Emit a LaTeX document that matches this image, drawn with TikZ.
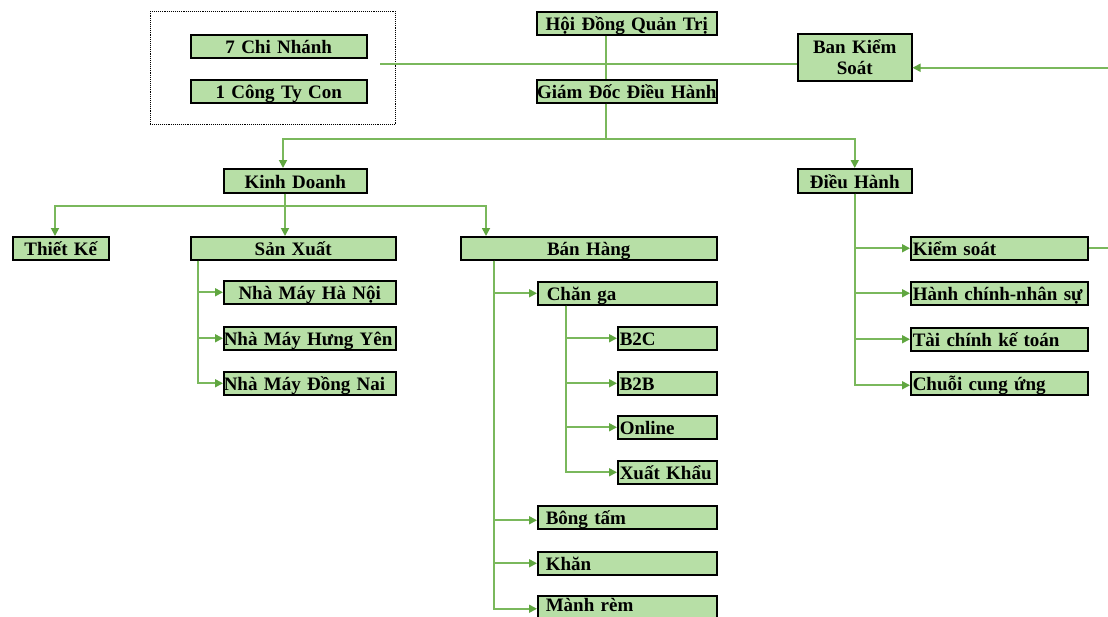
\documentclass[tikz,border=0pt]{standalone}
\usepackage{fontspec}
\setmainfont{Liberation Serif}
\usetikzlibrary{arrows.meta,calc}
\definecolor{boxfill}{RGB}{183,223,166}
\definecolor{conn}{RGB}{122,184,92}
\definecolor{conntip}{RGB}{96,166,64}
\tikzset{
  bx/.style={draw=black, fill=boxfill, line width=1.5pt, inner xsep=0pt, inner ysep=0pt,
    anchor=north west, text height=18.5pt, text depth=4.5pt,
    font=\bfseries\fontsize{19}{21}\selectfont},
  bxtall/.style={draw=black, fill=boxfill, line width=1.5pt, inner xsep=0pt, inner ysep=0pt,
    anchor=north west, font=\bfseries\fontsize{19}{21}\selectfont},
  ln/.style={draw=conn, line width=1.7pt},
  arr/.style={draw=conn, line width=1.7pt, -{Triangle[length=8pt,width=8pt,color=conntip]}},
  grpbox/.style={draw=black, densely dotted, line width=0.9pt, anchor=north west, inner sep=0pt}
}
\begin{document}
\begin{tikzpicture}[x=1pt,y=-1pt]
\useasboundingbox (0,0) rectangle (1108,616);
\clip (0,0) rectangle (1108,616);
\fill[white] (0,0) rectangle (1108,616);

% group frame
\node[grpbox, minimum width=245pt, minimum height=113pt] (grp) at (150,11) {};
\node[bx, text width=176pt, align=center] (cn) at (190,34) {7 Chi Nhánh};
\node[bx, text width=176pt, align=center] (ct) at (190,79) {1 Công Ty Con};

% top
\node[bx, text width=180pt, align=center] (hd) at (536,11) {Hội Đồng Quản Trị};
\node[bx, text width=180pt, align=center] (gd) at (536,79) {Giám Đốc Điều Hành};
\node[bxtall, text width=114pt, minimum height=47pt, align=center] (bks) at (797,33) {Ban Kiểm\\Soát};

% level 2
\node[bx, text width=143pt, align=center, text height=19.5pt] (kd) at (223,168) {Kinh Doanh};
\node[bx, text width=114pt, align=center, text height=19.5pt] (dh) at (797,168) {Điều Hành};

% kinh doanh children
\node[bx, text width=96pt, align=center] (tk) at (12,236) {Thiết Kế};
\node[bx, text width=205pt, align=center] (sx) at (190,236) {Sản Xuất};
\node[bx, text width=256pt, align=center] (bh) at (460,236) {Bán Hàng};

% san xuat children
\node[bx, text width=172pt, align=center] (nm1) at (223,280) {Nhà Máy Hà Nội};
\node[bx, text width=172pt, align=left] (nm2) at (223,326) {Nhà Máy Hưng Yên};
\node[bx, text width=172pt, align=left] (nm3) at (223,371) {Nhà Máy Đồng Nai};

% ban hang children
\node[bx, text width=179pt, align=left] (cg) at (537,281) {\hspace*{9pt}Chăn ga};
\node[bx, text width=99pt, align=left] (b2c) at (617,326) {\hspace*{2pt}B2C};
\node[bx, text width=99pt, align=left] (b2b) at (617,371) {\hspace*{2pt}B2B};
\node[bx, text width=99pt, align=left] (onl) at (617,415) {\hspace*{2pt}Online};
\node[bx, text width=99pt, align=left] (xk) at (617,460) {\hspace*{2pt}Xuất Khẩu};
\node[bx, text width=179pt, align=left] (bt) at (537,505) {\hspace*{8pt}Bông tấm};
\node[bx, text width=179pt, align=left] (kh) at (537,551) {\hspace*{8pt}Khăn};
\node[bx, text width=179pt, align=left, text height=15.5pt, text depth=7.5pt] (mr) at (537,595) {\hspace*{8pt}Mành rèm};

% dieu hanh children
\node[bx, text width=177pt, align=left] (ks) at (910,236) {\hspace*{2pt}Kiểm soát};
\node[bx, text width=177pt, align=left] (hc) at (910,281) {\hspace*{2pt}Hành chính-nhân sự};
\node[bx, text width=177pt, align=left] (tc) at (910,327) {\hspace*{2pt}Tài chính kế toán};
\node[bx, text width=177pt, align=left] (ccu) at (910,371) {\hspace*{2pt}Chuỗi cung ứng};

% trunk coordinates
\coordinate (tA) at (606,139);
\coordinate (tB) at (285,206);
\coordinate (g1) at (380,64);
\coordinate (off) at (1125,0);

% connectors
\draw[ln] (hd.south -| tA) -- (gd.north -| tA);
\draw[ln] (g1) -- (g1 -| bks.west);
\draw[arr] (gd.south -| tA) -- (tA) -| ($(kd.north west)+(60,0)$);
\draw[arr] (gd.south -| tA) -- (tA) -| (dh.north);

\draw[arr] (kd.south -| tB) -- (tB) -| ($(tk.north west)+(43,0)$);
\draw[arr] (kd.south -| tB) -- (tB) -- (sx.north -| tB);
\draw[arr] (tB) -| ($(bh.north west)+(26,0)$);

\draw[arr] ($(sx.south west)+(8,0)$) |- (nm1.west);
\draw[arr] ($(sx.south west)+(8,0)$) |- (nm2.west);
\draw[arr] ($(sx.south west)+(8,0)$) |- (nm3.west);

\draw[arr] ($(bh.south west)+(34,0)$) |- (cg.west);
\draw[arr] ($(bh.south west)+(34,0)$) |- ($(bt.west)+(0,3)$);
\draw[arr] ($(bh.south west)+(34,0)$) |- (kh.west);
\draw[arr] ($(bh.south west)+(34,0)$) |- ($(mr.west)+(0,1.5)$);

\draw[arr] ($(cg.south west)+(29,0)$) |- (b2c.west);
\draw[arr] ($(cg.south west)+(29,0)$) |- (b2b.west);
\draw[arr] ($(cg.south west)+(29,0)$) |- (onl.west);
\draw[arr] ($(cg.south west)+(29,0)$) |- (xk.west);

\draw[arr] (dh.south) |- (ks.west);
\draw[arr] (dh.south) |- (hc.west);
\draw[arr] (dh.south) |- (tc.west);
\draw[arr] (dh.south) |- ($(ccu.west)+(0,2)$);

\draw[arr] (ks.east) -- (ks.east -| off) -- ($(off |- bks.east)+(0,10.5)$) -- ($(bks.east)+(0,10.5)$);
\end{tikzpicture}
\end{document}
